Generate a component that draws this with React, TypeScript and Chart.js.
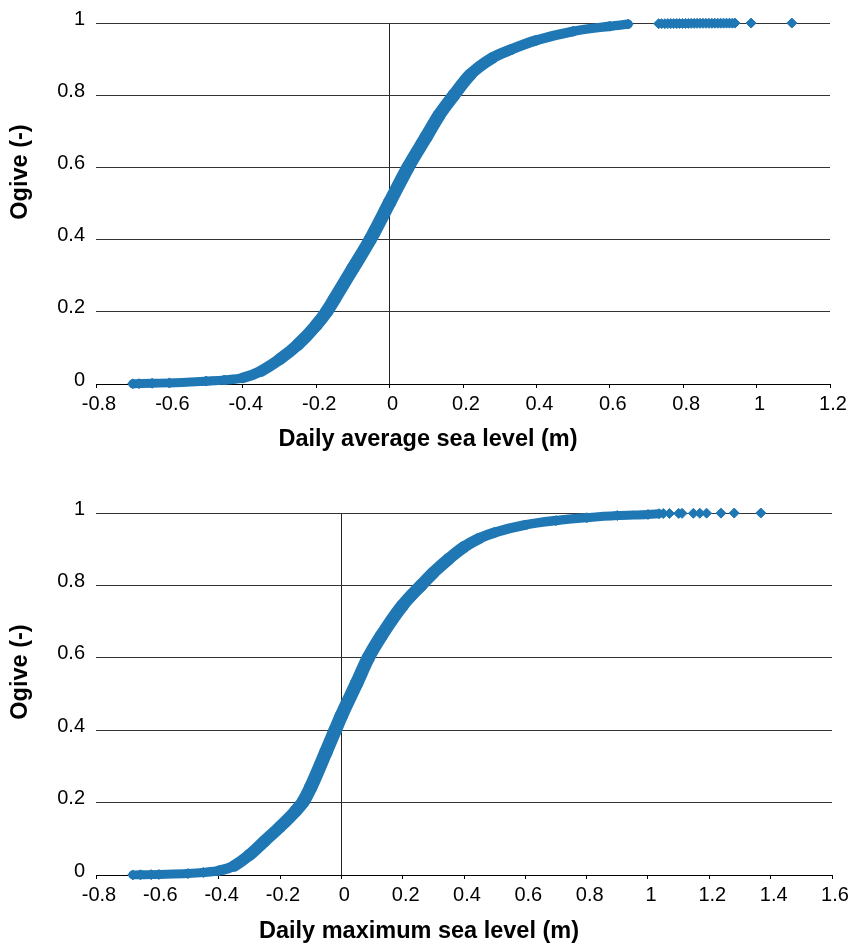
import React, { useEffect, useRef } from "react";
import { Chart, registerables } from "chart.js";

Chart.register(...registerables);

// ---------- data ----------
// Daily average sea level ogive – continuous part of the curve
const avgCurveX = [-0.70, -0.683, -0.647, -0.6, -0.5, -0.45, -0.4, -0.35, -0.3, -0.25, -0.2, -0.172, -0.15, -0.1, -0.053, 0, 0.05, 0.1, 0.135, 0.175, 0.22, 0.28, 0.33, 0.4, 0.5, 0.6, 0.65];
const avgCurveY = [0.0005, 0.001, 0.002, 0.003, 0.008, 0.011, 0.017, 0.036, 0.068, 0.109, 0.163, 0.2, 0.236, 0.32, 0.4, 0.503, 0.6, 0.685, 0.745, 0.8, 0.857, 0.903, 0.926, 0.952, 0.977, 0.991, 0.997];
// Daily average sea level ogive – isolated upper tail points
const avgTailX = [0.733, 0.741, 0.75, 0.758, 0.766, 0.774, 0.782, 0.79, 0.798, 0.806, 0.814, 0.822, 0.83, 0.838, 0.846, 0.854, 0.862, 0.87, 0.878, 0.886, 0.894, 0.902, 0.91, 0.918, 0.926, 0.934, 0.941, 0.985, 1.096];
const avgTailY = [0.998, 0.9981, 0.9982, 0.9983, 0.9984, 0.9985, 0.9986, 0.9987, 0.9988, 0.9988, 0.9989, 0.999, 0.999, 0.9991, 0.9991, 0.9992, 0.9992, 0.9993, 0.9993, 0.9994, 0.9994, 0.9995, 0.9995, 0.9996, 0.9996, 0.9996, 0.9997, 0.9998, 0.9999];

// Daily maximum sea level ogive – continuous part of the curve
const maxCurveX = [-0.68, -0.655, -0.62, -0.595, -0.5, -0.45, -0.4, -0.35, -0.3, -0.25, -0.2, -0.15, -0.124, -0.1, -0.05, -0.02, 0, 0.05, 0.088, 0.13, 0.2, 0.26, 0.3, 0.35, 0.4, 0.45, 0.5, 0.6, 0.7, 0.8, 0.9, 1.0, 1.036];
const maxCurveY = [0.0003, 0.0006, 0.001, 0.0015, 0.004, 0.007, 0.012, 0.025, 0.055, 0.094, 0.133, 0.176, 0.203, 0.242, 0.34, 0.4, 0.44, 0.53, 0.6, 0.66, 0.745, 0.8, 0.835, 0.873, 0.906, 0.93, 0.946, 0.967, 0.979, 0.987, 0.993, 0.996, 0.998];
// Daily maximum sea level ogive – isolated upper tail points
const maxTailX = [1.05, 1.07, 1.1, 1.111, 1.148, 1.169, 1.191, 1.238, 1.281, 1.368];
const maxTailY = [0.9985, 0.9987, 0.9989, 0.999, 0.9992, 0.9993, 0.9995, 0.9996, 0.9998, 0.9999];

const ogiveTicks = [0, 0.2, 0.4, 0.6, 0.8, 1];
const avgXTicks = [-0.8, -0.6, -0.4, -0.2, 0, 0.2, 0.4, 0.6, 0.8, 1, 1.2];
const maxXTicks = [-0.8, -0.6, -0.4, -0.2, 0, 0.2, 0.4, 0.6, 0.8, 1, 1.2, 1.4, 1.6];

const Y_TITLE = "Ogive (-)";
const AVG_X_TITLE = "Daily average sea level (m)";
const MAX_X_TITLE = "Daily maximum sea level (m)";

// ---------- styling ----------
const BLUE = "#1f77b4";
const FONT = '"Liberation Sans", Arial, Helvetica, sans-serif';

const titlesPlugin = {
  id: "manualTitles",
  afterDraw(chart: any, _args: any, opts: any) {
    const ctx = chart.ctx;
    ctx.save();
    ctx.fillStyle = "#000";
    ctx.font = `bold 23.5px ${FONT}`;
    ctx.textAlign = "center";
    ctx.textBaseline = "middle";
    ctx.fillText(opts.xTitle, opts.xTitleX, opts.xTitleY);
    ctx.translate(opts.yTitleX, opts.yTitleY);
    ctx.rotate(-Math.PI / 2);
    ctx.fillText(opts.yTitle, 0, 0);
    ctx.restore();
  },
};

type Props = {
  width: number;
  height: number;
  top: number;
  plotTop: number;
  plotBottom: number;
  plotRight: number;
  xMin: number;
  xMax: number;
  xTicks: number[];
  curveX: number[];
  curveY: number[];
  tailX: number[];
  tailY: number[];
  xTitle: string;
  xTitlePos: [number, number];
  yTitlePos: [number, number];
};

function OgiveChart(p: Props) {
  const ref = useRef<HTMLCanvasElement | null>(null);

  useEffect(() => {
    if (!ref.current) return;
    const curve = p.curveX.map((x, i) => ({ x, y: p.curveY[i] }));
    const tail = p.tailX.map((x, i) => ({ x, y: p.tailY[i] }));

    const chart = new Chart(ref.current, {
      type: "scatter",
      data: {
        datasets: [
          {
            data: curve,
            showLine: true,
            cubicInterpolationMode: "monotone",
            borderColor: BLUE,
            backgroundColor: BLUE,
            borderWidth: 9,
            borderCapStyle: "round",
            borderJoinStyle: "round",
            segment: {
              borderWidth: (c: any) => {
                const dx = c.p1.x - c.p0.x;
                const dy = c.p1.y - c.p0.y;
                const len = Math.hypot(dx, dy) || 1;
                return 8.8 + 5 * (Math.abs(dy) / len);
              },
            },
            pointStyle: "rectRot",
            pointRadius: 5,
            pointBorderWidth: 1,
            pointBackgroundColor: BLUE,
            pointBorderColor: BLUE,
            clip: false,
          } as any,
          {
            data: tail,
            showLine: false,
            pointStyle: "rectRot",
            pointRadius: 5,
            pointBorderWidth: 1,
            pointBackgroundColor: BLUE,
            pointBorderColor: BLUE,
            clip: false,
          } as any,
        ],
      },
      options: {
        responsive: false,
        animation: false,
        events: [],
        layout: {
          padding: { top: p.plotTop, right: p.width - p.plotRight, bottom: 0, left: 0 },
        },
        plugins: {
          legend: { display: false },
          tooltip: { enabled: false },
          manualTitles: {
            xTitle: p.xTitle,
            xTitleX: p.xTitlePos[0],
            xTitleY: p.xTitlePos[1],
            yTitle: Y_TITLE,
            yTitleX: p.yTitlePos[0],
            yTitleY: p.yTitlePos[1],
          },
        } as any,
        scales: {
          x: {
            type: "linear",
            min: p.xMin,
            max: p.xMax,
            afterBuildTicks: (s: any) => {
              s.ticks = p.xTicks.map((v) => ({ value: v }));
            },
            afterFit: (s: any) => {
              s.height = p.height - p.plotBottom;
            },
            ticks: {
              color: "#000",
              font: { family: FONT, size: 20 },
              padding: 4,
              labelOffset: 3,
              maxRotation: 0,
              autoSkip: false,
              callback: (v: any) => String(Math.round(Number(v) * 10) / 10),
            },
            grid: {
              drawOnChartArea: true,
              drawTicks: true,
              tickLength: 4,
              tickColor: "#000",
              color: (c: any) => (c.tick && Math.abs(c.tick.value) < 1e-9 ? "#222" : "rgba(0,0,0,0)"),
              lineWidth: 1,
            },
            border: { display: true, color: "#000", width: 1 },
          },
          y: {
            type: "linear",
            min: 0,
            max: 1,
            afterBuildTicks: (s: any) => {
              s.ticks = ogiveTicks.map((v) => ({ value: v }));
            },
            afterFit: (s: any) => {
              s.width = 96;
            },
            ticks: {
              color: "#000",
              font: { family: FONT, size: 20 },
              padding: 11,
              labelOffset: -4,
              autoSkip: false,
              callback: (v: any) => String(Math.round(Number(v) * 10) / 10),
            },
            grid: {
              drawTicks: false,
              color: "#333",
              lineWidth: 1,
            },
            border: { display: false },
          },
        },
      } as any,
      plugins: [titlesPlugin as any],
    });
    return () => chart.destroy();
  }, []);

  return (
    <canvas
      ref={ref}
      width={p.width}
      height={p.height}
      style={{ position: "absolute", left: 0, top: p.top, width: p.width, height: p.height }}
    />
  );
}

export default function App() {
  return (
    <div style={{ position: "absolute", left: 0, top: 0, width: 852, height: 947, background: "#fff" }}>
      <OgiveChart
        width={852}
        height={470}
        top={0}
        plotTop={23}
        plotBottom={384}
        plotRight={830}
        xMin={-0.8}
        xMax={1.2}
        xTicks={avgXTicks}
        curveX={avgCurveX}
        curveY={avgCurveY}
        tailX={avgTailX}
        tailY={avgTailY}
        xTitle={AVG_X_TITLE}
        xTitlePos={[428, 440]}
        yTitlePos={[21, 172]}
      />
      <OgiveChart
        width={852}
        height={477}
        top={470}
        plotTop={43}
        plotBottom={405}
        plotRight={832}
        xMin={-0.8}
        xMax={1.6}
        xTicks={maxXTicks}
        curveX={maxCurveX}
        curveY={maxCurveY}
        tailX={maxTailX}
        tailY={maxTailY}
        xTitle={MAX_X_TITLE}
        xTitlePos={[419, 462]}
        yTitlePos={[21, 202]}
      />
    </div>
  );
}
